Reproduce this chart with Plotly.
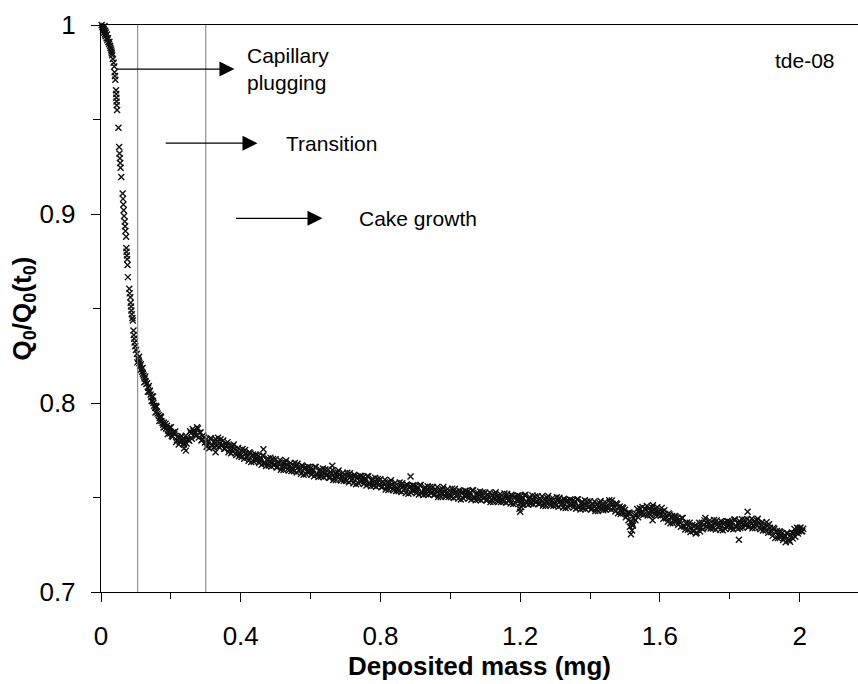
import plotly.graph_objects as go

# ---------------- data ----------------
mass_steep = [
    0.002, 0.004, 0.005, 0.006, 0.008, 0.009, 0.010, 0.011, 0.012, 0.013,
    0.014, 0.016, 0.017, 0.018, 0.020, 0.021, 0.023, 0.024, 0.026, 0.027,
    0.029, 0.030, 0.031, 0.032, 0.034, 0.036, 0.038, 0.039, 0.040, 0.041,
    0.043, 0.0435, 0.044, 0.0445, 0.045, 0.046, 0.050, 0.052, 0.053, 0.054,
    0.055, 0.056, 0.058, 0.062, 0.063, 0.064, 0.065, 0.066, 0.068, 0.069,
    0.070, 0.072, 0.0725, 0.073, 0.074, 0.075, 0.076, 0.077, 0.081, 0.082,
    0.084, 0.085, 0.086, 0.087, 0.088, 0.090, 0.091, 0.093, 0.094, 0.095,
    0.096, 0.098, 0.100, 0.103, 0.106, 0.108, 0.110, 0.112, 0.114, 0.116,
    0.118, 0.120, 0.122, 0.125, 0.128, 0.130, 0.132, 0.135, 0.138, 0.140,
    0.142, 0.144, 0.146, 0.148, 0.150, 0.152, 0.155, 0.157, 0.160, 0.162,
    0.165, 0.168, 0.170, 0.173, 0.176, 0.178, 0.180, 0.183, 0.186, 0.189,
    0.192, 0.195, 0.198,
]
ratio_steep = [
    1.000, 0.999, 1.0005, 0.997, 0.998, 0.996, 0.9995, 0.995, 0.997, 0.994,
    0.996, 0.993, 0.995, 0.992, 0.993, 0.991, 0.990, 0.991, 0.989, 0.988,
    0.987, 0.986, 0.985, 0.984, 0.982, 0.980, 0.978, 0.975, 0.973, 0.971,
    0.9655, 0.9635, 0.9615, 0.9595, 0.9575, 0.955, 0.9456, 0.9355, 0.932, 0.9295,
    0.927, 0.9245, 0.9196, 0.9108, 0.908, 0.905, 0.902, 0.899, 0.896, 0.8935,
    0.891, 0.888, 0.882, 0.880, 0.878, 0.876, 0.873, 0.8666, 0.8605, 0.858,
    0.856, 0.853, 0.851, 0.849, 0.847, 0.845, 0.8437, 0.8384, 0.836, 0.834,
    0.832, 0.830, 0.828, 0.826, 0.8235, 0.8225, 0.821, 0.8195, 0.8205, 0.818,
    0.8165, 0.8155, 0.8145, 0.813, 0.8115, 0.810, 0.8105, 0.808, 0.806, 0.8065,
    0.8045, 0.803, 0.8035, 0.801, 0.800, 0.7985, 0.7975, 0.7985, 0.7955, 0.7945,
    0.7935, 0.7920, 0.7930, 0.7905, 0.7895, 0.7885, 0.7895, 0.7875, 0.7865, 0.7880,
    0.7855, 0.7850, 0.7840,
]

mass_spread = [0.104, 0.109, 0.113, 0.119, 0.124, 0.127, 0.134, 0.137, 0.145,
               0.149, 0.156, 0.159, 0.167, 0.172, 0.179, 0.185, 0.191, 0.196]
ratio_spread = [0.8215, 0.8245, 0.8175, 0.8185, 0.8110, 0.8140, 0.8060, 0.8090, 0.8010,
                0.8035, 0.7950, 0.7980, 0.7905, 0.7925, 0.7870, 0.7890, 0.7835, 0.7870]

mass_cake = [
    0.200, 0.205, 0.210, 0.215, 0.220, 0.225, 0.230, 0.235, 0.240, 0.245,
    0.250, 0.255, 0.260, 0.265, 0.270, 0.275, 0.280, 0.285, 0.290, 0.295,
    0.300, 0.305, 0.310, 0.315, 0.320, 0.325, 0.330, 0.335, 0.340, 0.345,
    0.350, 0.355, 0.360, 0.365, 0.370, 0.375, 0.380, 0.385, 0.390, 0.395,
    0.400, 0.405, 0.410, 0.415, 0.420, 0.425, 0.430, 0.435, 0.440, 0.445,
    0.450, 0.455, 0.460, 0.465, 0.470, 0.475, 0.480, 0.485, 0.490, 0.495,
    0.500, 0.505, 0.510, 0.515, 0.520, 0.525, 0.530, 0.535, 0.540, 0.545,
    0.550, 0.555, 0.560, 0.565, 0.570, 0.575, 0.580, 0.585, 0.590, 0.595,
    0.600, 0.605, 0.610, 0.615, 0.620, 0.625, 0.630, 0.635, 0.640, 0.645,
    0.650, 0.655, 0.660, 0.665, 0.670, 0.675, 0.680, 0.685, 0.690, 0.695,
    0.700, 0.705, 0.710, 0.715, 0.720, 0.725, 0.730, 0.735, 0.740, 0.745,
    0.750, 0.755, 0.760, 0.765, 0.770, 0.775, 0.780, 0.785, 0.790, 0.795,
    0.800, 0.805, 0.810, 0.815, 0.820, 0.825, 0.830, 0.835, 0.840, 0.845,
    0.850, 0.855, 0.860, 0.865, 0.870, 0.875, 0.880, 0.885, 0.890, 0.895,
    0.900, 0.905, 0.910, 0.915, 0.920, 0.925, 0.930, 0.935, 0.940, 0.945,
    0.950, 0.955, 0.960, 0.965, 0.970, 0.975, 0.980, 0.985, 0.990, 0.995,
    1.000, 1.005, 1.010, 1.015, 1.020, 1.025, 1.030, 1.035, 1.040, 1.045,
    1.050, 1.055, 1.060, 1.065, 1.070, 1.075, 1.080, 1.085, 1.090, 1.095,
    1.100, 1.105, 1.110, 1.115, 1.120, 1.125, 1.130, 1.135, 1.140, 1.145,
    1.150, 1.155, 1.160, 1.165, 1.170, 1.175, 1.180, 1.185, 1.190, 1.195,
    1.200, 1.205, 1.210, 1.215, 1.220, 1.225, 1.230, 1.235, 1.240, 1.245,
    1.250, 1.255, 1.260, 1.265, 1.270, 1.275, 1.280, 1.285, 1.290, 1.295,
    1.300, 1.305, 1.310, 1.315, 1.320, 1.325, 1.330, 1.335, 1.340, 1.345,
    1.350, 1.355, 1.360, 1.365, 1.370, 1.375, 1.380, 1.385, 1.390, 1.395,
    1.400, 1.405, 1.410, 1.415, 1.420, 1.425, 1.430, 1.435, 1.440, 1.445,
    1.450, 1.455, 1.460, 1.465, 1.470, 1.475, 1.480, 1.485, 1.490, 1.495,
    1.500, 1.505, 1.510, 1.515, 1.520, 1.525, 1.530, 1.535, 1.540, 1.545,
    1.550, 1.555, 1.560, 1.565, 1.570, 1.575, 1.580, 1.585, 1.590, 1.595,
    1.600, 1.605, 1.610, 1.615, 1.620, 1.625, 1.630, 1.635, 1.640, 1.645,
    1.650, 1.655, 1.660, 1.665, 1.670, 1.675, 1.680, 1.685, 1.690, 1.695,
    1.700, 1.705, 1.710, 1.715, 1.720, 1.725, 1.730, 1.735, 1.740, 1.745,
    1.750, 1.755, 1.760, 1.765, 1.770, 1.775, 1.780, 1.785, 1.790, 1.795,
    1.800, 1.805, 1.810, 1.815, 1.820, 1.825, 1.830, 1.835, 1.840, 1.845,
    1.850, 1.855, 1.860, 1.865, 1.870, 1.875, 1.880, 1.885, 1.890, 1.895,
    1.900, 1.905, 1.910, 1.915, 1.920, 1.925, 1.930, 1.935, 1.940, 1.945,
    1.950, 1.955, 1.960, 1.965, 1.970, 1.975, 1.980, 1.985, 1.990, 1.995,
    2.000, 2.005, 2.010,
]
ratio_cake = [
    0.7872, 0.7822, 0.7835, 0.7793, 0.7822, 0.7796, 0.7826, 0.7785, 0.7807, 0.7786,
    0.7805, 0.7850, 0.7811, 0.7851, 0.7847, 0.7872, 0.7817, 0.7844, 0.7807, 0.7818,
    0.7805, 0.7780, 0.7760, 0.7814, 0.7776, 0.7798, 0.7773, 0.7816, 0.7788, 0.7774,
    0.7802, 0.7758, 0.7776, 0.7740, 0.7774, 0.7752, 0.7781, 0.7734, 0.7746, 0.7718,
    0.7725, 0.7757, 0.7705, 0.7733, 0.7719, 0.7739, 0.7688, 0.7727, 0.7701, 0.7724,
    0.7718, 0.7696, 0.7673, 0.7722, 0.7680, 0.7698, 0.7669, 0.7711, 0.7683, 0.7670,
    0.7702, 0.7660, 0.7681, 0.7647, 0.7684, 0.7664, 0.7696, 0.7651, 0.7666, 0.7640,
    0.7650, 0.7683, 0.7632, 0.7662, 0.7649, 0.7670, 0.7620, 0.7660, 0.7636, 0.7660,
    0.7655, 0.7634, 0.7612, 0.7662, 0.7620, 0.7639, 0.7611, 0.7654, 0.7626, 0.7615,
    0.7647, 0.7605, 0.7627, 0.7593, 0.7630, 0.7611, 0.7643, 0.7598, 0.7613, 0.7588,
    0.7598, 0.7631, 0.7581, 0.7611, 0.7599, 0.7620, 0.7570, 0.7611, 0.7587, 0.7612,
    0.7607, 0.7585, 0.7564, 0.7613, 0.7571, 0.7590, 0.7562, 0.7604, 0.7576, 0.7565,
    0.7597, 0.7555, 0.7576, 0.7542, 0.7579, 0.7559, 0.7591, 0.7546, 0.7561, 0.7535,
    0.7545, 0.7579, 0.7529, 0.7559, 0.7547, 0.7569, 0.7520, 0.7561, 0.7538, 0.7562,
    0.7558, 0.7537, 0.7516, 0.7566, 0.7525, 0.7544, 0.7517, 0.7560, 0.7533, 0.7522,
    0.7555, 0.7514, 0.7536, 0.7503, 0.7541, 0.7522, 0.7555, 0.7511, 0.7527, 0.7502,
    0.7513, 0.7547, 0.7497, 0.7529, 0.7517, 0.7539, 0.7490, 0.7531, 0.7509, 0.7534,
    0.7530, 0.7509, 0.7488, 0.7538, 0.7497, 0.7516, 0.7489, 0.7532, 0.7505, 0.7494,
    0.7527, 0.7486, 0.7508, 0.7476, 0.7514, 0.7495, 0.7528, 0.7484, 0.7501, 0.7476,
    0.7487, 0.7521, 0.7472, 0.7503, 0.7491, 0.7514, 0.7465, 0.7506, 0.7484, 0.7509,
    0.7505, 0.7484, 0.7464, 0.7514, 0.7474, 0.7493, 0.7467, 0.7510, 0.7484, 0.7473,
    0.7507, 0.7466, 0.7488, 0.7456, 0.7494, 0.7475, 0.7508, 0.7464, 0.7481, 0.7456,
    0.7467, 0.7501, 0.7451, 0.7482, 0.7470, 0.7493, 0.7444, 0.7485, 0.7462, 0.7487,
    0.7483, 0.7462, 0.7441, 0.7491, 0.7450, 0.7469, 0.7442, 0.7485, 0.7458, 0.7447,
    0.7480, 0.7439, 0.7461, 0.7428, 0.7466, 0.7448, 0.7482, 0.7440, 0.7458, 0.7435,
    0.7449, 0.7486, 0.7437, 0.7466, 0.7452, 0.7470, 0.7417, 0.7452, 0.7422, 0.7443,
    0.7435, 0.7407, 0.7380, 0.7416, 0.7366, 0.7391, 0.7380, 0.7439, 0.7420, 0.7413,
    0.7450, 0.7412, 0.7436, 0.7405, 0.7444, 0.7426, 0.7459, 0.7415, 0.7431, 0.7406,
    0.7418, 0.7445, 0.7388, 0.7413, 0.7397, 0.7416, 0.7364, 0.7402, 0.7376, 0.7398,
    0.7393, 0.7370, 0.7345, 0.7391, 0.7346, 0.7361, 0.7329, 0.7367, 0.7336, 0.7321,
    0.7352, 0.7313, 0.7343, 0.7320, 0.7367, 0.7356, 0.7392, 0.7347, 0.7362, 0.7336,
    0.7347, 0.7381, 0.7331, 0.7363, 0.7352, 0.7375, 0.7327, 0.7369, 0.7347, 0.7373,
    0.7370, 0.7351, 0.7332, 0.7384, 0.7345, 0.7366, 0.7340, 0.7385, 0.7360, 0.7350,
    0.7385, 0.7346, 0.7369, 0.7337, 0.7376, 0.7357, 0.7388, 0.7341, 0.7354, 0.7326,
    0.7338, 0.7369, 0.7314, 0.7340, 0.7323, 0.7340, 0.7286, 0.7323, 0.7296, 0.7317,
    0.7312, 0.7287, 0.7263, 0.7311, 0.7274, 0.7301, 0.7283, 0.7334, 0.7315, 0.7310,
    0.7337, 0.7322, 0.7335,
]

mass_cake2 = [
    0.2025, 0.2075, 0.2125, 0.2175, 0.2225, 0.2275, 0.2325, 0.2375, 0.2425, 0.2475,
    0.2525, 0.2575, 0.2625, 0.2675, 0.2725, 0.2775, 0.2825, 0.2875, 0.2925, 0.2975,
    0.3025, 0.3075, 0.3125, 0.3175, 0.3225, 0.3275, 0.3325, 0.3375, 0.3425, 0.3475,
    0.3525, 0.3575, 0.3625, 0.3675, 0.3725, 0.3775, 0.3825, 0.3875, 0.3925, 0.3975,
    0.4025, 0.4075, 0.4125, 0.4175, 0.4225, 0.4275, 0.4325, 0.4375, 0.4425, 0.4475,
    0.4525, 0.4575, 0.4625, 0.4675, 0.4725, 0.4775, 0.4825, 0.4875, 0.4925, 0.4975,
    0.5025, 0.5075, 0.5125, 0.5175, 0.5225, 0.5275, 0.5325, 0.5375, 0.5425, 0.5475,
    0.5525, 0.5575, 0.5625, 0.5675, 0.5725, 0.5775, 0.5825, 0.5875, 0.5925, 0.5975,
    0.6025, 0.6075, 0.6125, 0.6175, 0.6225, 0.6275, 0.6325, 0.6375, 0.6425, 0.6475,
    0.6525, 0.6575, 0.6625, 0.6675, 0.6725, 0.6775, 0.6825, 0.6875, 0.6925, 0.6975,
    0.7025, 0.7075, 0.7125, 0.7175, 0.7225, 0.7275, 0.7325, 0.7375, 0.7425, 0.7475,
    0.7525, 0.7575, 0.7625, 0.7675, 0.7725, 0.7775, 0.7825, 0.7875, 0.7925, 0.7975,
    0.8025, 0.8075, 0.8125, 0.8175, 0.8225, 0.8275, 0.8325, 0.8375, 0.8425, 0.8475,
    0.8525, 0.8575, 0.8625, 0.8675, 0.8725, 0.8775, 0.8825, 0.8875, 0.8925, 0.8975,
    0.9025, 0.9075, 0.9125, 0.9175, 0.9225, 0.9275, 0.9325, 0.9375, 0.9425, 0.9475,
    0.9525, 0.9575, 0.9625, 0.9675, 0.9725, 0.9775, 0.9825, 0.9875, 0.9925, 0.9975,
    1.0025, 1.0075, 1.0125, 1.0175, 1.0225, 1.0275, 1.0325, 1.0375, 1.0425, 1.0475,
    1.0525, 1.0575, 1.0625, 1.0675, 1.0725, 1.0775, 1.0825, 1.0875, 1.0925, 1.0975,
    1.1025, 1.1075, 1.1125, 1.1175, 1.1225, 1.1275, 1.1325, 1.1375, 1.1425, 1.1475,
    1.1525, 1.1575, 1.1625, 1.1675, 1.1725, 1.1775, 1.1825, 1.1875, 1.1925, 1.1975,
    1.2025, 1.2075, 1.2125, 1.2175, 1.2225, 1.2275, 1.2325, 1.2375, 1.2425, 1.2475,
    1.2525, 1.2575, 1.2625, 1.2675, 1.2725, 1.2775, 1.2825, 1.2875, 1.2925, 1.2975,
    1.3025, 1.3075, 1.3125, 1.3175, 1.3225, 1.3275, 1.3325, 1.3375, 1.3425, 1.3475,
    1.3525, 1.3575, 1.3625, 1.3675, 1.3725, 1.3775, 1.3825, 1.3875, 1.3925, 1.3975,
    1.4025, 1.4075, 1.4125, 1.4175, 1.4225, 1.4275, 1.4325, 1.4375, 1.4425, 1.4475,
    1.4525, 1.4575, 1.4625, 1.4675, 1.4725, 1.4775, 1.4825, 1.4875, 1.4925, 1.4975,
    1.5025, 1.5075, 1.5125, 1.5175, 1.5225, 1.5275, 1.5325, 1.5375, 1.5425, 1.5475,
    1.5525, 1.5575, 1.5625, 1.5675, 1.5725, 1.5775, 1.5825, 1.5875, 1.5925, 1.5975,
    1.6025, 1.6075, 1.6125, 1.6175, 1.6225, 1.6275, 1.6325, 1.6375, 1.6425, 1.6475,
    1.6525, 1.6575, 1.6625, 1.6675, 1.6725, 1.6775, 1.6825, 1.6875, 1.6925, 1.6975,
    1.7025, 1.7075, 1.7125, 1.7175, 1.7225, 1.7275, 1.7325, 1.7375, 1.7425, 1.7475,
    1.7525, 1.7575, 1.7625, 1.7675, 1.7725, 1.7775, 1.7825, 1.7875, 1.7925, 1.7975,
    1.8025, 1.8075, 1.8125, 1.8175, 1.8225, 1.8275, 1.8325, 1.8375, 1.8425, 1.8475,
    1.8525, 1.8575, 1.8625, 1.8675, 1.8725, 1.8775, 1.8825, 1.8875, 1.8925, 1.8975,
    1.9025, 1.9075, 1.9125, 1.9175, 1.9225, 1.9275, 1.9325, 1.9375, 1.9425, 1.9475,
    1.9525, 1.9575, 1.9625, 1.9675, 1.9725, 1.9775, 1.9825, 1.9875, 1.9925, 1.9975,
    2.0025, 2.0075,
]
ratio_cake2 = [
    0.7825, 0.7845, 0.7849, 0.7803, 0.7780, 0.7816, 0.7803, 0.7781, 0.7827, 0.7808,
    0.7800, 0.7840, 0.7863, 0.7835, 0.7825, 0.7865, 0.7842, 0.7801, 0.7828, 0.7791,
    0.7768, 0.7795, 0.7811, 0.7777, 0.7765, 0.7809, 0.7797, 0.7769, 0.7808, 0.7779,
    0.7758, 0.7784, 0.7793, 0.7753, 0.7734, 0.7772, 0.7755, 0.7725, 0.7762, 0.7734,
    0.7714, 0.7741, 0.7751, 0.7712, 0.7695, 0.7734, 0.7719, 0.7689, 0.7728, 0.7701,
    0.7682, 0.7710, 0.7721, 0.7683, 0.7667, 0.7707, 0.7692, 0.7664, 0.7704, 0.7677,
    0.7659, 0.7687, 0.7699, 0.7661, 0.7645, 0.7685, 0.7671, 0.7643, 0.7683, 0.7657,
    0.7639, 0.7667, 0.7679, 0.7641, 0.7625, 0.7665, 0.7651, 0.7623, 0.7663, 0.7637,
    0.7620, 0.7648, 0.7661, 0.7623, 0.7608, 0.7648, 0.7635, 0.7607, 0.7648, 0.7622,
    0.7604, 0.7633, 0.7645, 0.7607, 0.7592, 0.7632, 0.7618, 0.7590, 0.7631, 0.7605,
    0.7587, 0.7616, 0.7628, 0.7591, 0.7575, 0.7615, 0.7602, 0.7574, 0.7615, 0.7589,
    0.7571, 0.7600, 0.7612, 0.7574, 0.7559, 0.7599, 0.7585, 0.7557, 0.7598, 0.7572,
    0.7554, 0.7582, 0.7594, 0.7556, 0.7540, 0.7580, 0.7566, 0.7538, 0.7578, 0.7552,
    0.7535, 0.7564, 0.7576, 0.7539, 0.7524, 0.7565, 0.7552, 0.7525, 0.7565, 0.7540,
    0.7523, 0.7552, 0.7565, 0.7528, 0.7513, 0.7554, 0.7541, 0.7514, 0.7555, 0.7530,
    0.7513, 0.7542, 0.7555, 0.7518, 0.7503, 0.7544, 0.7531, 0.7504, 0.7545, 0.7520,
    0.7503, 0.7532, 0.7545, 0.7508, 0.7494, 0.7535, 0.7522, 0.7495, 0.7536, 0.7512,
    0.7495, 0.7524, 0.7537, 0.7500, 0.7485, 0.7526, 0.7513, 0.7486, 0.7527, 0.7502,
    0.7485, 0.7514, 0.7527, 0.7490, 0.7476, 0.7517, 0.7504, 0.7477, 0.7518, 0.7494,
    0.7477, 0.7506, 0.7519, 0.7483, 0.7468, 0.7509, 0.7497, 0.7470, 0.7511, 0.7487,
    0.7470, 0.7499, 0.7512, 0.7476, 0.7461, 0.7503, 0.7490, 0.7464, 0.7505, 0.7481,
    0.7465, 0.7494, 0.7507, 0.7470, 0.7455, 0.7497, 0.7484, 0.7457, 0.7498, 0.7473,
    0.7457, 0.7486, 0.7499, 0.7462, 0.7447, 0.7488, 0.7475, 0.7448, 0.7489, 0.7464,
    0.7447, 0.7476, 0.7489, 0.7452, 0.7437, 0.7478, 0.7465, 0.7438, 0.7479, 0.7454,
    0.7437, 0.7466, 0.7479, 0.7442, 0.7428, 0.7470, 0.7458, 0.7433, 0.7476, 0.7454,
    0.7440, 0.7471, 0.7484, 0.7444, 0.7426, 0.7464, 0.7445, 0.7412, 0.7448, 0.7418,
    0.7396, 0.7418, 0.7421, 0.7373, 0.7356, 0.7408, 0.7411, 0.7396, 0.7443, 0.7422,
    0.7409, 0.7440, 0.7455, 0.7420, 0.7406, 0.7447, 0.7434, 0.7407, 0.7448, 0.7424,
    0.7404, 0.7426, 0.7432, 0.7390, 0.7372, 0.7410, 0.7394, 0.7364, 0.7402, 0.7375,
    0.7356, 0.7382, 0.7391, 0.7350, 0.7331, 0.7368, 0.7350, 0.7318, 0.7355, 0.7327,
    0.7310, 0.7344, 0.7366, 0.7339, 0.7332, 0.7379, 0.7367, 0.7339, 0.7379, 0.7353,
    0.7336, 0.7365, 0.7379, 0.7343, 0.7329, 0.7371, 0.7359, 0.7333, 0.7375, 0.7351,
    0.7336, 0.7367, 0.7382, 0.7347, 0.7334, 0.7376, 0.7365, 0.7340, 0.7382, 0.7359,
    0.7344, 0.7374, 0.7388, 0.7352, 0.7338, 0.7378, 0.7362, 0.7332, 0.7370, 0.7344,
    0.7326, 0.7351, 0.7359, 0.7317, 0.7297, 0.7333, 0.7316, 0.7285, 0.7322, 0.7294,
    0.7275, 0.7300, 0.7311, 0.7275, 0.7266, 0.7315, 0.7311, 0.7292, 0.7340, 0.7321,
    0.7341, 0.7322,
]

mass_outliers = [0.238, 0.243, 0.328, 0.465, 0.662, 0.886, 1.198, 1.200, 1.203,
                 1.206, 1.514, 1.517, 1.520, 1.522, 1.579, 1.826, 1.851]
ratio_outliers = [0.7760, 0.7748, 0.7740, 0.7755, 0.7668, 0.7611, 0.7440, 0.7425, 0.7450,
                  0.7462, 0.7345, 0.7305, 0.7325, 0.7350, 0.7380, 0.7276, 0.7425]

# regime boundaries (vertical lines)
phase_bounds = [0.105, 0.3]

x_ticks = [0, 0.4, 0.8, 1.2, 1.6, 2]
x_ticktext = ["0", "0.4", "0.8", "1.2", "1.6", "2"]
x_minor = [0.2, 0.6, 1.0, 1.4, 1.8]
y_ticks = [0.7, 0.8, 0.9, 1.0]
y_ticktext = ["0.7", "0.8", "0.9", "1"]
y_minor = [0.75, 0.85, 0.95]

# regime annotations: (arrow tail x, arrow head x, y, label x, label text)
regimes = [
    (0.041, 0.382, 0.9767, 0.411, "Capillary<br>plugging"),
    (0.181, 0.448, 0.9375, 0.525, "Transition"),
    (0.382, 0.634, 0.8977, 0.734, "Cake growth"),
]
sample_label = "tde-08"

# ---------------- figure ----------------
FONT = "Liberation Sans, Arial, sans-serif"

mass = mass_steep + mass_spread + mass_cake + mass_cake2 + mass_outliers
ratio = ratio_steep + ratio_spread + ratio_cake + ratio_cake2 + ratio_outliers

fig = go.Figure()
fig.add_trace(go.Scatter(
    x=mass, y=ratio, mode="markers", cliponaxis=False,
    marker=dict(symbol="x-thin", size=6, color="#111",
                line=dict(width=1.4, color="#111")),
    showlegend=False, hoverinfo="skip",
))

for xb in phase_bounds:
    fig.add_shape(type="line", xref="x", yref="paper", x0=xb, x1=xb, y0=0, y1=1,
                  line=dict(color="#7a7a7a", width=1))

for tail, head, yv, lx, txt in regimes:
    fig.add_annotation(x=head, y=yv, ax=tail, ay=yv, axref="x", ayref="y",
                       xref="x", yref="y", text="", showarrow=True,
                       arrowhead=2, arrowsize=2.5, arrowwidth=1.2, arrowcolor="black",
                       standoff=0, startstandoff=0)
    fig.add_annotation(x=lx, y=yv, xref="x", yref="y", text=txt, showarrow=False,
                       xanchor="left", yanchor="middle", align="left",
                       font=dict(family=FONT, size=21, color="black"))

fig.add_annotation(x=1.924, y=0.981, xref="x", yref="y", text=sample_label,
                   showarrow=False, xanchor="left", yanchor="middle",
                   font=dict(family=FONT, size=21, color="black"))

fig.update_layout(
    width=858, height=684,
    margin=dict(l=101, r=0, t=25, b=92),
    paper_bgcolor="white", plot_bgcolor="white",
    font=dict(family=FONT, color="black"),
    xaxis=dict(
        range=[0, 2.167], tickmode="array", tickvals=x_ticks, ticktext=x_ticktext,
        ticks="outside", ticklen=9, tickwidth=1.2, tickcolor="black",
        showline=True, linecolor="black", linewidth=1.4, mirror=True,
        showgrid=False, zeroline=False,
        tickfont=dict(family=FONT, size=26), ticklabelstandoff=12,
        minor=dict(tickmode="array", tickvals=x_minor, ticks="outside", ticklen=6,
                   tickwidth=1, tickcolor="black", showgrid=False),
        title=dict(text="<b>Deposited mass (mg)</b>", standoff=0,
                   font=dict(family=FONT, size=26)),
    ),
    yaxis=dict(
        range=[0.7, 1.0], tickmode="array", tickvals=y_ticks, ticktext=y_ticktext,
        ticks="outside", ticklen=9, tickwidth=1.2, tickcolor="black",
        showline=True, linecolor="black", linewidth=1.4, mirror=False,
        showgrid=False, zeroline=False,
        tickfont=dict(family=FONT, size=26), ticklabelstandoff=10,
        minor=dict(tickmode="array", tickvals=y_minor, ticks="outside", ticklen=7,
                   tickwidth=1, tickcolor="black", showgrid=False),
        title=dict(text="<b>Q<sub>0</sub>/Q<sub>0</sub>(t<sub>0</sub>)</b>", standoff=0,
                   font=dict(family=FONT, size=26)),
    ),
)

fig.write_html("out.html")
